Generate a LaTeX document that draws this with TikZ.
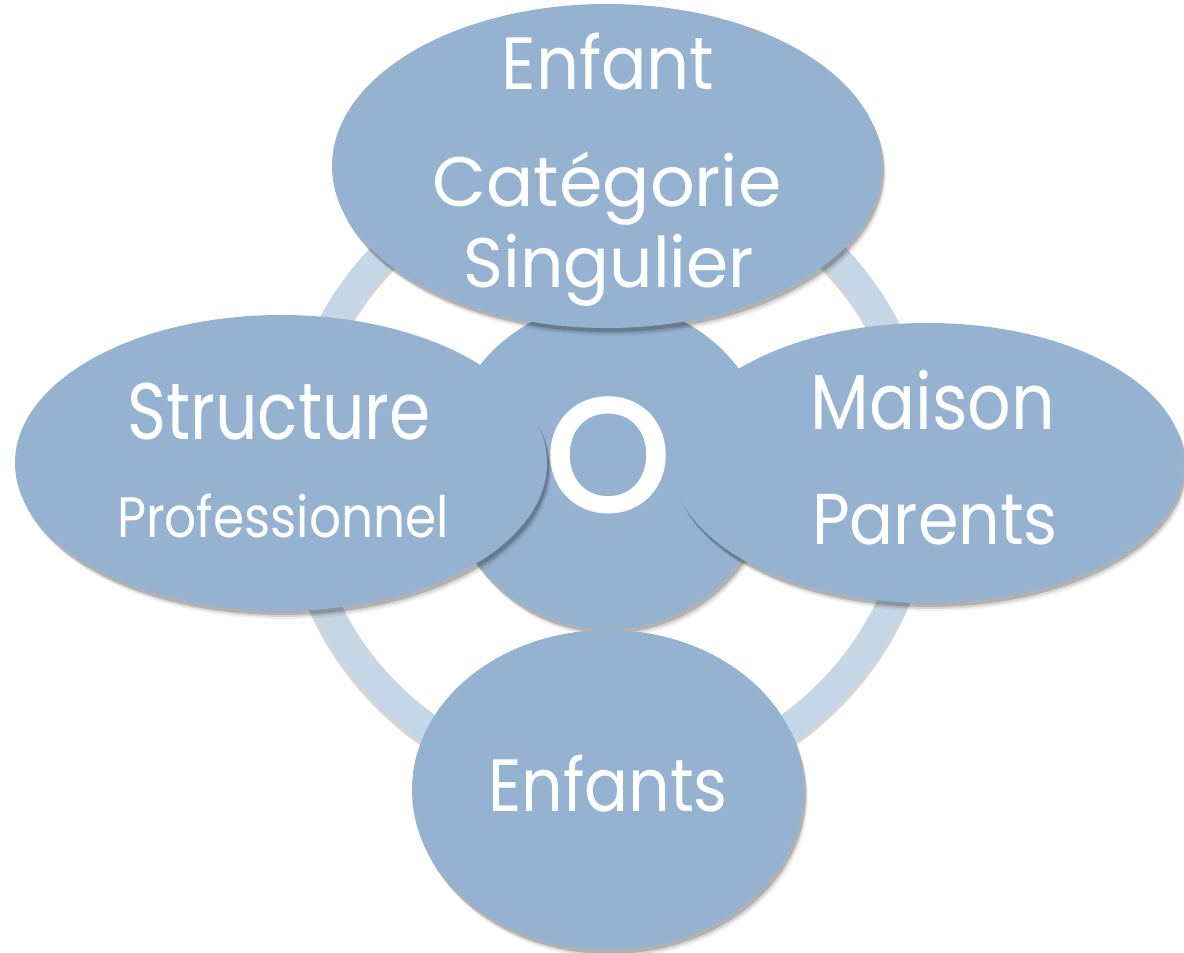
\documentclass[tikz,border=0pt]{standalone}
\usepackage{fontspec}
\setmainfont{Poppins}
\newfontfamily\ofont[FakeBold=3]{Poppins}
\usetikzlibrary{shapes.geometric,shadows}
\definecolor{blobfill}{HTML}{95B3D1}
\definecolor{ringfill}{HTML}{C5D6E6}
\tikzset{
  softshadow/.style={
    drop shadow={shadow xshift=4pt, shadow yshift=-8pt, opacity=0.06, fill=black},
    drop shadow={shadow xshift=3pt, shadow yshift=-6pt, opacity=0.10, fill=black},
    drop shadow={shadow xshift=2pt, shadow yshift=-4pt, opacity=0.18, fill=black}},
  blob/.style={ellipse, fill=blobfill, draw=none, inner sep=0pt, softshadow},
  lbl/.style={text=white, anchor=base, inner sep=0pt},
}
\begin{document}
\begin{tikzpicture}[x=1pt,y=1pt]
\useasboundingbox (0,0) rectangle (1184,953);
% ring
\coordinate (c) at (608,480);
\draw[black, opacity=0.16, line width=30pt] ([yshift=-4pt]c) circle[radius=312.5];
\draw[ringfill, line width=30pt] (c) circle[radius=312.5];
% centre circle
\node[blob, circle, minimum size=326pt] (centre) at (608,487) {};
\node[lbl, font=\ofont\fontsize{158}{158}\selectfont, xscale=1.0] (o) at (608,443) {O};
% outer ellipses
\node[blob, minimum width=550pt, minimum height=324pt] (top) at (607,787) {};
\node[blob, minimum width=532pt, minimum height=296pt] (left) at (281,490) {};
\node[blob, minimum width=512pt, minimum height=280pt] (right) at (928,490) {};
\node[blob, minimum width=392pt, minimum height=320pt] (bottom) at (608,163) {};
% labels
\node[lbl, font=\fontsize{74}{74}\selectfont, xscale=0.91] (t1) at (608,863) {Enfant};
\node[lbl, font=\fontsize{70}{70}\selectfont] (t2) at (607,746) {Catégorie};
\node[lbl, font=\fontsize{70}{70}\selectfont, xscale=0.97] (t3) at (609,665) {Singulier};
\node[lbl, font=\fontsize{80}{80}\selectfont, xscale=0.83] (l1) at (279,513) {Structure};
\node[lbl, font=\fontsize{57}{57}\selectfont, xscale=0.88] (l2) at (283,415) {Professionnel};
\node[lbl, font=\fontsize{78}{78}\selectfont, xscale=0.875] (r1) at (933,523) {Maison};
\node[lbl, font=\fontsize{72}{72}\selectfont, xscale=0.905] (r2) at (935,408) {Parents};
\node[lbl, font=\fontsize{74}{74}\selectfont, xscale=0.88] (b1) at (608,141) {Enfants};
\end{tikzpicture}
\end{document}
